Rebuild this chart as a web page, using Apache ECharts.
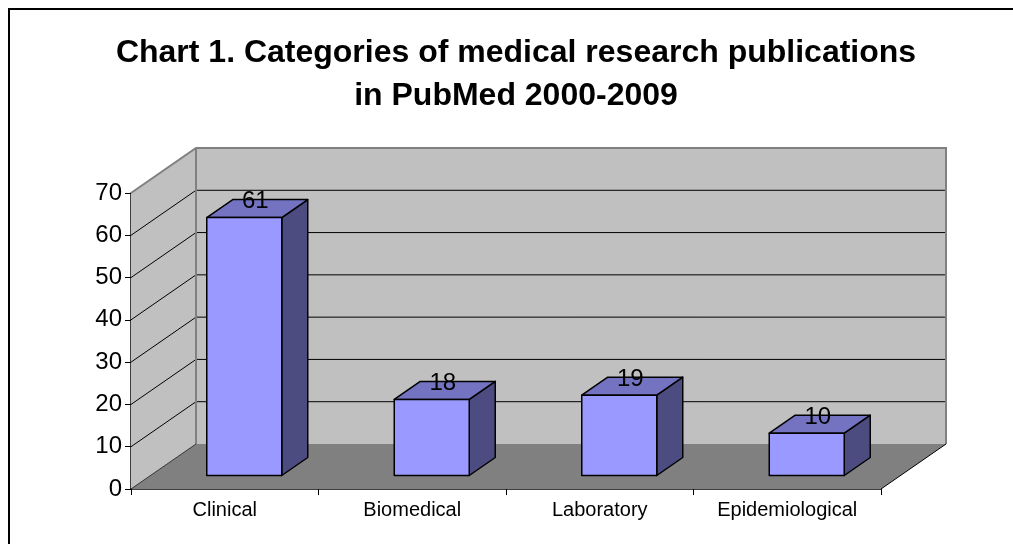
<!DOCTYPE html>
<html>
<head>
<meta charset="utf-8">
<style>
  html, body { margin: 0; padding: 0; background: #fff; }
  #main { width: 1013px; height: 544px; }
</style>
<script src="https://cdn.jsdelivr.net/npm/echarts@6/dist/echarts.min.js"></script>
</head>
<body>
<div id="main"></div>
<script>
// --- data ---
var categories = ['Clinical', 'Biomedical', 'Laboratory', 'Epidemiological'];
var publications = [61, 18, 19, 10];
var yTicks = [0, 10, 20, 30, 40, 50, 60, 70];
var titleLines = ['Chart 1. Categories of medical research publications', 'in PubMed 2000-2009'];

var chart = echarts.init(document.getElementById('main'), null, { renderer: 'canvas' });

// 3D look: depth vector of the whole plot box (pixels)
var DX = 65, DY = -45;
var BAR_FRONT = 0.3;   // bar starts at 30% of the depth
var BAR_DEPTH = 0.4;   // and is 40% deep
var BAR_WIDTH = 0.4;   // share of the category band

var FONT = 'Liberation Sans, Arial, sans-serif';

function renderWalls(params, api) {
  var cs = params.coordSys;
  var x0 = cs.x, x1 = cs.x + cs.width;
  var yTop = cs.y, yBot = cs.y + cs.height;
  var children = [];
  // side wall
  children.push({ type: 'polygon', shape: { points: [[x0, yTop], [x0 + DX, yTop + DY], [x0 + DX, yBot + DY], [x0, yBot]] },
    style: { fill: '#C0C0C0' } });
  // back wall
  children.push({ type: 'rect', shape: { x: x0 + DX, y: yTop + DY, width: x1 - x0, height: yBot - yTop },
    style: { fill: '#C0C0C0' } });
  // floor
  children.push({ type: 'polygon', shape: { points: [[x0, yBot], [x1, yBot], [x1 + DX, yBot + DY], [x0 + DX, yBot + DY]] },
    style: { fill: '#808080' } });
  // grid lines on side + back wall
  yTicks.forEach(function (v) {
    if (v === 0 || v === yTicks[yTicks.length - 1]) return;
    var y = api.coord([0, v])[1];
    children.push({ type: 'polyline', shape: { points: [[x0, y], [x0 + DX, y + DY], [x1 + DX, y + DY]] },
      style: { stroke: '#000', lineWidth: 1, fill: null } });
  });
  // wall edges
  children.push({ type: 'polyline', shape: { points: [[x0, yTop], [x0 + DX, yTop + DY], [x1 + DX, yTop + DY], [x1 + DX, yBot + DY]] },
    style: { stroke: '#808080', lineWidth: 2, fill: null } });
  children.push({ type: 'line', shape: { x1: x0 + DX, y1: yTop + DY, x2: x0 + DX, y2: yBot + DY },
    style: { stroke: '#808080', lineWidth: 2 } });
  children.push({ type: 'line', shape: { x1: x0, y1: yBot, x2: x0 + DX, y2: yBot + DY },
    style: { stroke: '#333', lineWidth: 1 } });
  children.push({ type: 'line', shape: { x1: x1, y1: yBot, x2: x1 + DX, y2: yBot + DY },
    style: { stroke: '#000', lineWidth: 1 } });
  return { type: 'group', children: children, silent: true };
}

function renderBar(params, api) {
  var idx = api.value(0), val = api.value(1);
  var base = api.coord([idx, 0]);
  var top = api.coord([idx, val]);
  var bw = api.size([1, 0])[0] * BAR_WIDTH;
  var ox = DX * BAR_FRONT, oy = DY * BAR_FRONT;
  var bx = DX * BAR_DEPTH, by = DY * BAR_DEPTH;
  var l = base[0] - bw / 2 + ox, r = base[0] + bw / 2 + ox;
  var t = top[1] + oy, b = base[1] + oy;
  var edge = { stroke: '#000', lineWidth: 1.5, lineJoin: 'round' };
  return {
    type: 'group',
    children: [
      { type: 'polygon', shape: { points: [[r, t], [r + bx, t + by], [r + bx, b + by], [r, b]] },
        style: Object.assign({ fill: '#4C4C80' }, edge) },
      { type: 'polygon', shape: { points: [[l, t], [l + bx, t + by], [r + bx, t + by], [r, t]] },
        style: Object.assign({ fill: '#7373C2' }, edge) },
      { type: 'rect', shape: { x: l, y: t, width: r - l, height: b - t },
        style: Object.assign({ fill: '#9999FF' }, edge) },
      { type: 'text', x: (l + r) / 2 + bx / 2 - 2, y: t + by / 2 - 7,
        style: { text: String(val), fill: '#000', font: '24px ' + FONT, align: 'center', verticalAlign: 'middle' } }
    ]
  };
}

var option = {
  animation: false,
  backgroundColor: '#fff',
  graphic: [
    {
      type: 'rect', shape: { x: 9, y: 9, width: 1010, height: 540 },
      style: { fill: null, stroke: '#000', lineWidth: 2 }, silent: true
    },
    {
      type: 'text', x: 516, y: 53,
      style: { text: titleLines[0], fill: '#000', font: 'bold 32px ' + FONT, align: 'center', verticalAlign: 'middle' }
    },
    {
      type: 'text', x: 516, y: 96,
      style: { text: titleLines[1], fill: '#000', font: 'bold 32px ' + FONT, align: 'center', verticalAlign: 'middle' }
    }
  ],
  grid: { left: 131, right: 132, top: 193, bottom: 55 },
  xAxis: {
    type: 'category',
    data: categories,
    boundaryGap: true,
    axisLine: { show: true, lineStyle: { color: '#000', width: 1.5 } },
    axisTick: { show: true, length: 6, lineStyle: { color: '#000' } },
    axisLabel: { color: '#000', fontFamily: FONT, fontSize: 20, margin: 11 },
    splitLine: { show: false }
  },
  yAxis: {
    type: 'value',
    min: 0, max: 70, interval: 10,
    axisLine: { show: true, lineStyle: { color: '#000', width: 1.5 } },
    axisTick: { show: true, length: 6, lineStyle: { color: '#000' } },
    axisLabel: { color: '#000', fontFamily: FONT, fontSize: 24, margin: 9 },
    splitLine: { show: false }
  },
  series: [
    {
      name: 'walls', type: 'custom', renderItem: renderWalls,
      data: [[0, 0]], encode: { x: 0, y: 1 }, z: 1, silent: true
    },
    {
      name: 'Publications', type: 'custom', renderItem: renderBar,
      data: publications.map(function (v, i) { return [i, v]; }),
      encode: { x: 0, y: 1 }, z: 2
    }
  ]
};

chart.setOption(option);
window.addEventListener('resize', function () { chart.resize(); });
</script>
</body>
</html>
